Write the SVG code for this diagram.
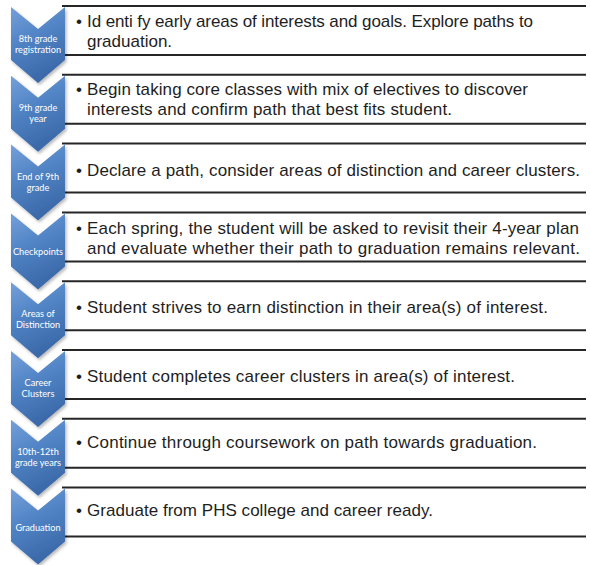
<svg xmlns="http://www.w3.org/2000/svg" width="590" height="565" viewBox="0 0 590 565">
<defs>
<linearGradient id="chev" x1="0" y1="0" x2="0.35" y2="1">
<stop offset="0" stop-color="#75a0da"/>
<stop offset="0.45" stop-color="#5285c6"/>
<stop offset="1" stop-color="#3b69a9"/>
</linearGradient>
<filter id="sh" x="-20%" y="-20%" width="150%" height="150%">
<feDropShadow dx="1.5" dy="2" stdDeviation="1.5" flood-color="#000" flood-opacity="0.28"/>
</filter>
<path id="cv" d="M11,0 L38,22 L65,0 L65,53 L38,76 L11,53 Z"/>
</defs>
<style>
.bg{fill:#ffffff}
.chev{fill:url(#chev);filter:url(#sh)}
.lab{font-family:Lato,"Open Sans",sans-serif;font-size:9.2px;fill:#ffffff;text-anchor:middle}
.ln{stroke:#262626;stroke-width:2;fill:none}
.tx{font-family:"Liberation Sans",Arial,sans-serif;font-size:17px;fill:#1e1e1e}
</style>
<rect class="bg" x="0" y="0" width="590" height="565"/>
<g id="connectors"/>
<g id="step1">
<line class="ln" x1="62" y1="6" x2="586" y2="6"/><line class="ln" x1="62" y1="55" x2="586" y2="55"/>
<use href="#cv" class="chev" transform="translate(0,7)"/>
<text class="lab"><tspan x="38" y="42">8th grade</tspan><tspan x="38" y="53">registration</tspan></text>
<text class="tx"><tspan x="76" y="27">•</tspan><tspan x="87" y="27" textLength="446" lengthAdjust="spacing">Id enti fy early areas of interests and goals. Explore paths to</tspan><tspan x="87" y="47">graduation.</tspan></text>
</g>
<g id="step2">
<line class="ln" x1="62" y1="74.8" x2="586" y2="74.8"/><line class="ln" x1="62" y1="123.8" x2="586" y2="123.8"/>
<use href="#cv" class="chev" transform="translate(0,75.8)"/>
<text class="lab"><tspan x="38" y="110.8">9th grade</tspan><tspan x="38" y="121.8">year</tspan></text>
<text class="tx"><tspan x="76" y="95">•</tspan><tspan x="87" y="95" textLength="441" lengthAdjust="spacing">Begin taking core classes with mix of electives to discover</tspan><tspan x="87" y="115" textLength="365" lengthAdjust="spacing">interests and confirm path that best fits student.</tspan></text>
</g>
<g id="step3">
<line class="ln" x1="62" y1="143.6" x2="586" y2="143.6"/><line class="ln" x1="62" y1="192.6" x2="586" y2="192.6"/>
<use href="#cv" class="chev" transform="translate(0,144.6)"/>
<text class="lab"><tspan x="38" y="179.6">End of 9th</tspan><tspan x="38" y="190.6">grade</tspan></text>
<text class="tx"><tspan x="76" y="176">•</tspan><tspan x="87" y="176" textLength="493" lengthAdjust="spacing">Declare a path, consider areas of distinction and career clusters.</tspan></text>
</g>
<g id="step4">
<line class="ln" x1="62" y1="212.4" x2="586" y2="212.4"/><line class="ln" x1="62" y1="261.4" x2="586" y2="261.4"/>
<use href="#cv" class="chev" transform="translate(0,213.4)"/>
<text class="lab"><tspan x="38" y="255.4">Checkpoints</tspan></text>
<text class="tx"><tspan x="76" y="234">•</tspan><tspan x="87" y="234" textLength="492" lengthAdjust="spacing">Each spring, the student will be asked to revisit their 4-year plan</tspan><tspan x="87" y="253.5" textLength="493" lengthAdjust="spacing">and evaluate whether their path to graduation remains relevant.</tspan></text>
</g>
<g id="step5">
<line class="ln" x1="62" y1="281.2" x2="586" y2="281.2"/><line class="ln" x1="62" y1="330.2" x2="586" y2="330.2"/>
<use href="#cv" class="chev" transform="translate(0,282.2)"/>
<text class="lab"><tspan x="38" y="317.2">Areas of</tspan><tspan x="38" y="328.2">Distinction</tspan></text>
<text class="tx"><tspan x="76" y="313.3">•</tspan><tspan x="87" y="313.3" textLength="461" lengthAdjust="spacing">Student strives to earn distinction in their area(s) of interest.</tspan></text>
</g>
<g id="step6">
<line class="ln" x1="62" y1="350" x2="586" y2="350"/><line class="ln" x1="62" y1="399" x2="586" y2="399"/>
<use href="#cv" class="chev" transform="translate(0,351)"/>
<text class="lab"><tspan x="38" y="386">Career</tspan><tspan x="38" y="397">Clusters</tspan></text>
<text class="tx"><tspan x="76" y="382.3">•</tspan><tspan x="87" y="382.3" textLength="428" lengthAdjust="spacing">Student completes career clusters in area(s) of interest.</tspan></text>
</g>
<g id="step7">
<line class="ln" x1="62" y1="418.8" x2="586" y2="418.8"/><line class="ln" x1="62" y1="467.8" x2="586" y2="467.8"/>
<use href="#cv" class="chev" transform="translate(0,419.8)"/>
<text class="lab"><tspan x="38" y="454.8">10th-12th</tspan><tspan x="38" y="465.8">grade years</tspan></text>
<text class="tx"><tspan x="76" y="448.3">•</tspan><tspan x="87" y="448.3" textLength="450" lengthAdjust="spacing">Continue through coursework on path towards graduation.</tspan></text>
</g>
<g id="step8">
<line class="ln" x1="62" y1="487.6" x2="586" y2="487.6"/><line class="ln" x1="62" y1="536.6" x2="586" y2="536.6"/>
<use href="#cv" class="chev" transform="translate(0,488.6)"/>
<text class="lab"><tspan x="38" y="530.6">Graduation</tspan></text>
<text class="tx"><tspan x="76" y="516">•</tspan><tspan x="87" y="516" textLength="346" lengthAdjust="spacing">Graduate from PHS college and career ready.</tspan></text>
</g>
</svg>
